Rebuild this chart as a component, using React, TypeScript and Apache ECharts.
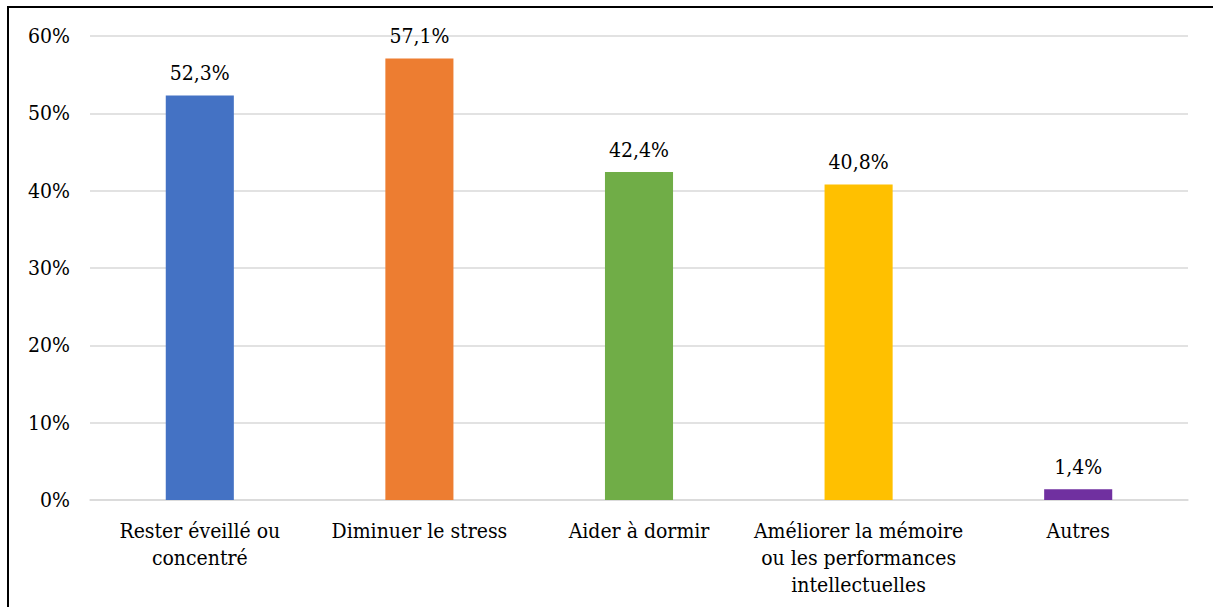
import React, { useEffect, useRef } from "react";
import * as echarts from "echarts";

const categories = [
  "Rester éveillé ou\nconcentré",
  "Diminuer le stress",
  "Aider à dormir",
  "Améliorer la mémoire\nou les performances\nintellectuelles",
  "Autres",
];
const values = [52.3, 57.1, 42.4, 40.8, 1.4];
const colors = ["#4472C4", "#ED7D31", "#70AD47", "#FFC000", "#7030A0"];
const yTicks = { min: 0, max: 60, interval: 10 };

const FONT = "DejaVu Serif Condensed";
const FS = 21;

export default function App() {
  const ref = useRef<HTMLDivElement>(null);
  useEffect(() => {
    if (!ref.current) return;
    const chart = echarts.init(ref.current, null, { renderer: "svg" });
    chart.setOption({
      animation: false,
      backgroundColor: "#ffffff",
      textStyle: { fontFamily: FONT },
      grid: { left: 90, right: 25, top: 36, bottom: 107, containLabel: false },
      xAxis: {
        type: "category",
        data: categories,
        axisLine: { show: true, lineStyle: { color: "#d9d9d9", width: 1.5 } },
        axisTick: { show: false },
        axisLabel: {
          interval: 0,
          margin: 17,
          fontFamily: FONT,
          fontSize: FS,
          color: "#000",
          lineHeight: 27,
        },
      },
      yAxis: {
        type: "value",
        min: yTicks.min,
        max: yTicks.max,
        interval: yTicks.interval,
        axisLine: { show: false },
        axisTick: { show: false },
        splitLine: { lineStyle: { color: "#d9d9d9", width: 1.5 } },
        axisLabel: {
          formatter: (v: number) => `${v}%`,
          margin: 20,
          fontFamily: FONT,
          fontSize: FS,
          color: "#000",
        },
      },
      series: [
        {
          type: "bar",
          barWidth: "31%",
          data: values.map((v, i) => ({ value: v, itemStyle: { color: colors[i] } })),
          label: {
            show: true,
            position: "top",
            distance: 12,
            fontFamily: FONT,
            fontSize: FS,
            color: "#000",
            formatter: (p: any) => `${p.value.toFixed(1).replace(".", ",")}%`,
          },
        },
      ],
      graphic: [
        {
          type: "rect",
          shape: { x: 8, y: 7, width: 1230, height: 630 },
          style: { fill: "none", stroke: "#000", lineWidth: 2 },
          silent: true,
        },
      ],
    });
    return () => chart.dispose();
  }, []);
  return (
    <div
      ref={ref}
      style={{ position: "absolute", left: 0, top: 0, width: 1213, height: 607 }}
    />
  );
}
